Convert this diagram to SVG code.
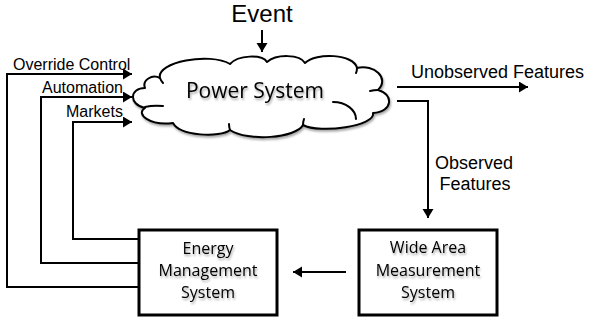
<svg xmlns="http://www.w3.org/2000/svg" width="590" height="324" viewBox="0 0 590 324">
<defs>
<marker id="ah" markerUnits="userSpaceOnUse" markerWidth="10" markerHeight="12" refX="9" refY="5.5" orient="auto">
<path d="M0,0 L9,5.5 L0,11 Z" fill="#000"/>
</marker>
<filter id="sh" x="-10%" y="-10%" width="130%" height="140%">
<feDropShadow dx="1" dy="2" stdDeviation="1.2" flood-color="#000" flood-opacity="0.35"/>
</filter>
<style>
.ln{fill:none;stroke:#000;stroke-width:2}
.box{fill:#fff;stroke:#000;stroke-width:3}
.cl{fill:#fff;stroke:#000;stroke-width:2;stroke-linejoin:round}
.tl{fill:none;stroke:#000;stroke-width:2;stroke-linecap:round}
.a{font-family:"Liberation Sans",Arial,sans-serif;fill:#000}
.c{font-family:"Open Sans","Liberation Sans",sans-serif;fill:#000;text-anchor:middle}
</style>
</defs>
<rect width="590" height="324" fill="#fff"/>

<g id="connectors">
<path class="ln" d="M262,30 V52" marker-end="url(#ah)"/>
<path class="ln" d="M139,287 H7 V74 H132" marker-end="url(#ah)"/>
<path class="ln" d="M139,263 H41 V97 H132" marker-end="url(#ah)"/>
<path class="ln" d="M139,239 H73 V122 H132" marker-end="url(#ah)"/>
<path class="ln" d="M397,87 H528" marker-end="url(#ah)"/>
<path class="ln" d="M397,101 H428 V218" marker-end="url(#ah)"/>
<path class="ln" d="M346,272 H293" marker-end="url(#ah)"/>
</g>

<g id="event">
<text class="a" x="262" y="22" font-size="24" text-anchor="middle">Event</text>
</g>

<g id="power-system">
<g filter="url(#sh)">
<path class="cl" d="M160,78 C156,62 210,52 230,64 C238,55 262,54 267,62 C276,54 300,54 305,63 C316,52 354,54 357,68 C374,64 390,78 378,90 C394,94 393,112 373,113 C376,126 320,134 303,125 C296,138 248,142 230,130 C220,138 180,136 173,123 C150,126 135,114 145,108 C128,104 130,88 145,88 C142,80 152,74 160,78 Z"/>
</g>
<path class="tl" d="M145,107 Q153,105 163,106"/>
<path class="tl" d="M333,102 C346,102 356,110 356,119"/>
<path class="tl" d="M378,90 Q374,90 370,91"/>
<path class="tl" d="M303,125 Q303,122 304,119"/>
<path class="tl" d="M230,130 Q229,127 229,124"/>
<path class="tl" d="M160,78 Q161,81 163,83"/>
<path class="tl" d="M357,68 Q357,71 356,73"/>
<text class="c" x="255" y="98" font-size="21" filter="url(#sh)">Power System</text>
</g>

<g id="labels">
<text class="a" x="13" y="70" font-size="16">Override Control</text>
<text class="a" x="42" y="93" font-size="16">Automation</text>
<text class="a" x="66" y="117" font-size="16">Markets</text>
<text class="a" x="411" y="78" font-size="18">Unobserved Features</text>
<text class="a" x="474" y="169" font-size="18" text-anchor="middle">Observed</text>
<text class="a" x="475" y="190" font-size="18" text-anchor="middle">Features</text>
</g>

<g id="ems">
<rect class="box" x="139" y="230" width="138" height="85"/>
<text class="c" font-size="16" filter="url(#sh)"><tspan x="208" y="254">Energy</tspan><tspan x="208" y="276">Management</tspan><tspan x="208" y="298">System</tspan></text>
</g>

<g id="wams">
<rect class="box" x="359" y="230" width="138" height="85"/>
<text class="c" font-size="16" filter="url(#sh)"><tspan x="428" y="253">Wide Area</tspan><tspan x="428" y="276">Measurement</tspan><tspan x="428" y="298">System</tspan></text>
</g>
</svg>
